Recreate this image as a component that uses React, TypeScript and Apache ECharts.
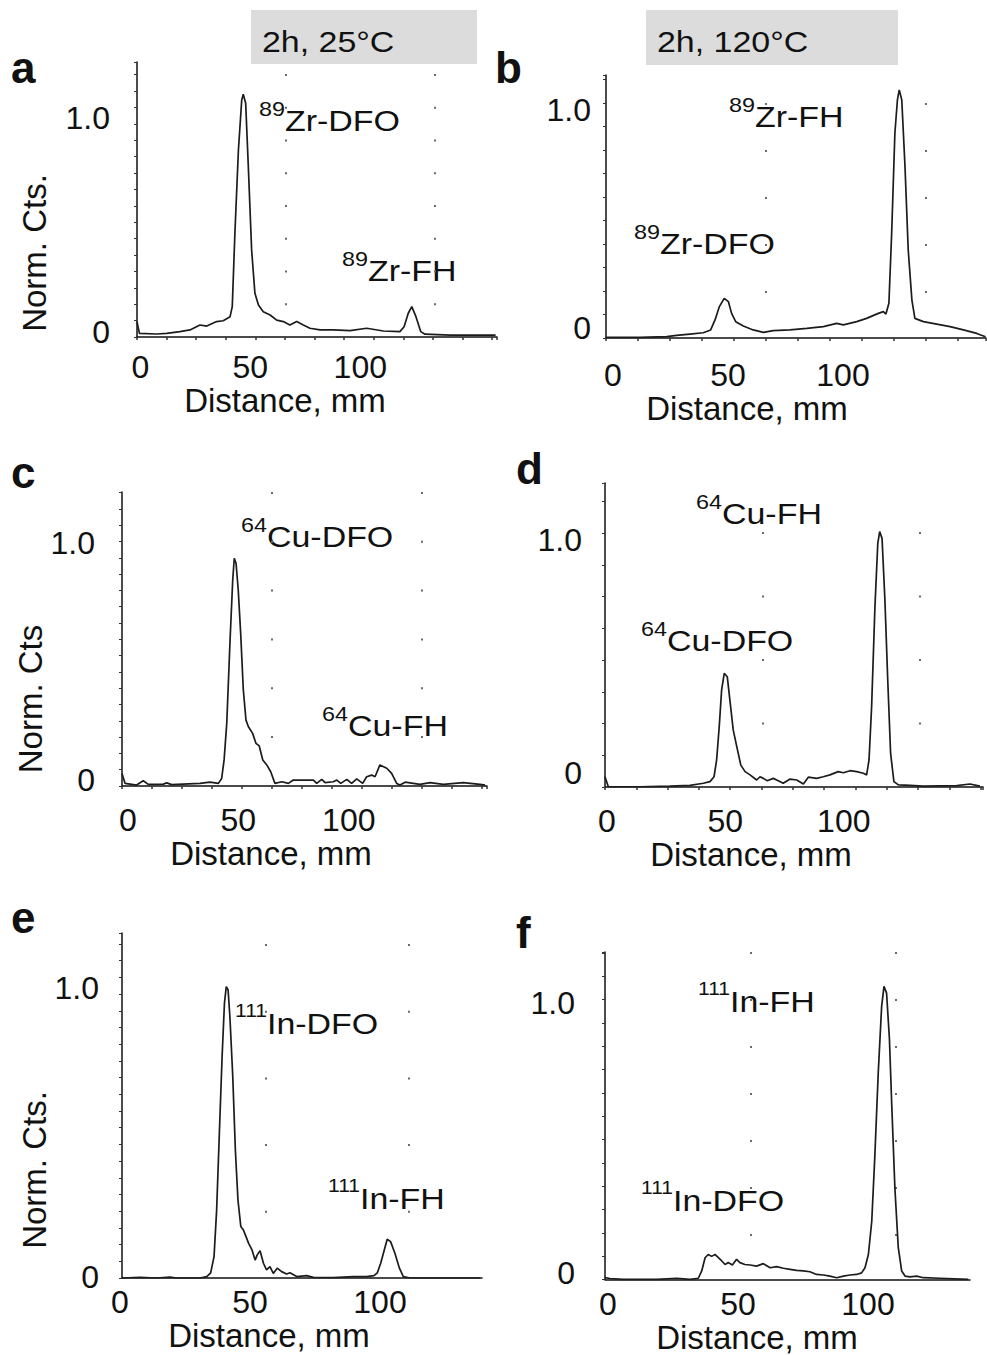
import React, { useEffect, useRef } from "react";
import * as echarts from "echarts";

const FONT = '"Liberation Sans", Arial, Helvetica, sans-serif';
const INK = "#111111";

// ---------------- data ----------------
const xTickValues = [0, 50, 100];
const yTickValues = [0, 1];
const conditionTitles = ["2h, 25°C", "2h, 120°C"];
const panelLetters = ["a", "b", "c", "d", "e", "f"];
const xAxisName = "Distance, mm";
const yAxisNames = ["Norm. Cts.", "", "Norm. Cts", "", "Norm. Cts.", ""];

// peak annotations: [isotope superscript, species]
const notesA = [["89", "Zr-DFO"], ["89", "Zr-FH"]];
const notesB = [["89", "Zr-FH"], ["89", "Zr-DFO"]];
const notesC = [["64", "Cu-DFO"], ["64", "Cu-FH"]];
const notesD = [["64", "Cu-FH"], ["64", "Cu-DFO"]];
const notesE = [["111", "In-DFO"], ["111", "In-FH"]];
const notesF = [["111", "In-FH"], ["111", "In-DFO"]];

// (a) 89Zr, 2h 25°C
const distA = [0, 1.1, 8.9, 13.5, 19.5, 24.1, 28.6, 31.7, 36.2, 39.2, 42.3, 43.3, 44.5, 46.1, 47.6, 48.3, 49.4, 50.6, 52.1, 53.6, 55.2, 57.4, 60.5, 63.5, 66.5, 69.5, 72.6, 75.6, 78.6, 83.2, 89.2, 96.8, 104.4, 112, 119.5, 121.4, 123.3, 124.9, 126.8, 129, 130.9, 142.3, 163];
const ctsA = [0.072, 0.017, 0.014, 0.017, 0.025, 0.033, 0.056, 0.051, 0.072, 0.076, 0.095, 0.142, 0.485, 0.874, 1.107, 1.134, 1.092, 0.796, 0.407, 0.204, 0.15, 0.118, 0.103, 0.079, 0.072, 0.056, 0.072, 0.056, 0.041, 0.033, 0.033, 0.03, 0.041, 0.028, 0.025, 0.048, 0.111, 0.142, 0.095, 0.025, 0.013, 0.009, 0.009];

// (b) 89Zr, 2h 120°C
const distB = [0, 14.8, 26.4, 30.7, 36.5, 42.3, 45.5, 47.4, 49.3, 51.4, 53.2, 54.6, 56.4, 59.7, 64, 68.4, 72.7, 80, 87.3, 94.5, 100.3, 103.2, 109, 113.3, 118.4, 120.6, 121.7, 123, 124.2, 125.6, 126.7, 127.5, 128.6, 130, 131.4, 133, 134.3, 138, 143.8, 149.6, 155.4, 161.2, 165];
const ctsB = [0.003, 0.003, 0.006, 0.012, 0.018, 0.024, 0.037, 0.083, 0.144, 0.182, 0.167, 0.113, 0.075, 0.055, 0.037, 0.026, 0.034, 0.037, 0.044, 0.052, 0.067, 0.06, 0.075, 0.09, 0.113, 0.121, 0.11, 0.159, 0.48, 0.939, 1.092, 1.138, 1.092, 0.786, 0.404, 0.174, 0.09, 0.075, 0.064, 0.052, 0.037, 0.021, 0.006];

// (c) 64Cu, 2h 25°C
const distC = [0, 1.4, 6.6, 9.6, 11.9, 18.7, 20.2, 22.5, 35.3, 39.8, 43.6, 45.1, 46.2, 47.4, 48.9, 50.1, 50.8, 51.6, 52.6, 53.7, 54.9, 56.1, 57.2, 59.1, 60.6, 62.1, 63.7, 65.5, 67.3, 69.2, 72.3, 75.3, 77.5, 86.6, 88.1, 90.4, 91.9, 95.6, 97.2, 99, 101.7, 103.9, 106.2, 108.9, 110.7, 113, 114.5, 116.7, 119.8, 122, 124.3, 125.8, 128.1, 134.8, 139.4, 145.4, 154.4, 162, 164.3];
const ctsC = [0.053, 0.011, 0.004, 0.022, 0.007, 0.008, 0.013, 0.006, 0.011, 0.016, 0.011, 0.032, 0.11, 0.264, 0.616, 0.869, 0.961, 0.94, 0.827, 0.644, 0.405, 0.278, 0.25, 0.222, 0.18, 0.169, 0.11, 0.089, 0.06, 0.011, 0.018, 0.011, 0.025, 0.025, 0.011, 0.028, 0.014, 0.018, 0.025, 0.011, 0.028, 0.011, 0.03, 0.011, 0.039, 0.046, 0.039, 0.089, 0.075, 0.053, 0.011, 0.004, 0.016, 0.007, 0.014, 0.007, 0.014, 0.007, 0.004];

// (d) 64Cu, 2h 120°C
const distD = [0, 1.4, 14.8, 27.4, 35.9, 41.5, 44.3, 46, 47.1, 48.2, 49.2, 50.3, 51.6, 52.7, 54.1, 55.6, 57.3, 59.1, 61.2, 64, 65.4, 66.8, 68.5, 71, 73.1, 75.2, 78.1, 80.9, 83.7, 85.8, 89.3, 92.1, 94.9, 98.4, 100.6, 103.4, 106.2, 109, 110.4, 111.4, 112.5, 113.9, 115.1, 115.9, 116.9, 118.1, 119.3, 120.5, 121.9, 123.8, 128.7, 134.3, 148.4, 154, 158.2];
const ctsD = [0.044, 0.001, 0.001, 0.004, 0.007, 0.016, 0.023, 0.044, 0.116, 0.259, 0.416, 0.488, 0.473, 0.373, 0.245, 0.173, 0.094, 0.066, 0.052, 0.03, 0.044, 0.037, 0.027, 0.037, 0.027, 0.016, 0.034, 0.03, 0.013, 0.042, 0.037, 0.044, 0.052, 0.066, 0.061, 0.07, 0.066, 0.059, 0.052, 0.116, 0.345, 0.774, 1.046, 1.096, 1.067, 0.803, 0.459, 0.145, 0.023, 0.009, 0.007, 0.004, 0.006, 0.013, 0.004];

// (e) 111In, 2h 25°C
const distE = [0, 6.9, 13.3, 18.5, 21, 30, 32.6, 34.1, 35.4, 36.4, 37.4, 38.5, 39.4, 40.1, 40.8, 41.5, 42.6, 43.6, 44.6, 45.7, 46.7, 47.7, 48.7, 50, 51.2, 52, 53.1, 54.4, 55.6, 56.9, 58.2, 59.7, 61.4, 63.3, 64.6, 67.2, 71, 73.6, 81.3, 89, 94.1, 96.9, 98.2, 99.5, 100.8, 102, 103.3, 105, 106.7, 108.2, 110.8, 119.7, 137.7];
const ctsE = [0, 0.002, 0, 0.003, 0, 0, 0.005, 0.018, 0.074, 0.235, 0.489, 0.766, 0.95, 1.008, 0.997, 0.904, 0.697, 0.443, 0.27, 0.178, 0.166, 0.143, 0.12, 0.097, 0.062, 0.08, 0.094, 0.051, 0.028, 0.039, 0.016, 0.034, 0.022, 0.014, 0.018, 0.005, 0.008, 0.002, 0.001, 0.005, 0.005, 0.008, 0.018, 0.051, 0.094, 0.134, 0.126, 0.085, 0.034, 0.005, 0, 0, 0];

// (f) 111In, 2h 120°C
const distF = [0, 1.9, 7, 19.9, 27.6, 32.7, 35.9, 37.2, 38.5, 39.7, 41, 42.3, 43.6, 44.9, 46.2, 47.4, 49, 50.6, 51.9, 53.8, 55.8, 58.3, 60.9, 63.5, 66, 68.6, 71.2, 73.7, 76.3, 78.8, 81.4, 84, 86.5, 89.1, 91.7, 94.2, 96.8, 98.7, 100, 101.3, 102.6, 103.8, 105.1, 106.4, 107.3, 108.3, 109.4, 110.3, 111.5, 112.8, 114.1, 115.4, 117.3, 119.9, 122.4, 128.8, 139.7];
const ctsF = [0.007, 0.004, 0.001, 0.001, 0.005, 0.001, 0.005, 0.032, 0.081, 0.093, 0.086, 0.093, 0.081, 0.069, 0.056, 0.063, 0.054, 0.075, 0.063, 0.056, 0.054, 0.05, 0.059, 0.044, 0.048, 0.042, 0.038, 0.034, 0.032, 0.029, 0.019, 0.017, 0.013, 0.007, 0.013, 0.017, 0.019, 0.025, 0.044, 0.093, 0.216, 0.461, 0.767, 1.012, 1.086, 1.061, 0.89, 0.644, 0.338, 0.118, 0.032, 0.013, 0.01, 0.013, 0.007, 0.005, 0.001];

// ---------------- layout (positions / styles only) ----------------
type Layout = {
  left: number; top: number; width: number; height: number;
  sx: number; sy: number; // px per mm, px per unit
  xTickPx: number; yTickPx: number;
  xLabelMargin: number; xLabelShift: number;
  yLabelMargin: number; yLabelShift: number;
  xNameGap: number; xNameShift: number;
  yNameGap: number; yNameShift: number;
  colPx: number; rowTop: number; rowStep: number;
  letter: [number, number];
  notePos: [number, number][];
};

const layouts: Layout[] = [
  { left: 137, top: 62, width: 360, height: 275, sx: 2.2, sy: 214, xTickPx: 29.6, yTickPx: 16.4,
    xLabelMargin: 14, xLabelShift: 3.3, yLabelMargin: 27, yLabelShift: 5, xNameGap: 43.5, xNameShift: 32,
    yNameGap: 86.5, yNameShift: 53.5, colPx: 149, rowTop: 75, rowStep: 32.75,
    letter: [11, 67], notePos: [[259, 121], [342, 271]] },
  { left: 606, top: 75, width: 380, height: 263, sx: 2.3, sy: 218, xTickPx: 32, yTickPx: 23.5,
    xLabelMargin: 21, xLabelShift: 7, yLabelMargin: 15, yLabelShift: 10, xNameGap: 42.5, xNameShift: 49,
    yNameGap: 0, yNameShift: 0, colPx: 160, rowTop: 104, rowStep: 47,
    letter: [495, 67], notePos: [[729, 117], [634, 244]] },
  { left: 122, top: 492, width: 365, height: 294, sx: 2.21, sy: 237, xTickPx: 30, yTickPx: 16.3,
    xLabelMargin: 18, xLabelShift: 5.8, yLabelMargin: 27, yLabelShift: 6, xNameGap: 49, xNameShift: 33.5,
    yNameGap: 70.5, yNameShift: 60, colPx: 150, rowTop: 493, rowStep: 48.8,
    letter: [11, 472], notePos: [[241, 537], [322, 726]] },
  { left: 605, top: 483, width: 378, height: 304, sx: 2.37, sy: 233, xTickPx: 31.3, yTickPx: 31.75,
    xLabelMargin: 18, xLabelShift: 1.8, yLabelMargin: 23, yLabelShift: 14, xNameGap: 48.5, xNameShift: 43,
    yNameGap: 0, yNameShift: 0, colPx: 157.5, rowTop: 533, rowStep: 63.5,
    letter: [516, 468], notePos: [[696, 514], [641, 641]] },
  { left: 122, top: 933, width: 360, height: 345, sx: 2.6, sy: 289, xTickPx: 0, yTickPx: 16.7,
    xLabelMargin: 8, xLabelShift: -2, yLabelMargin: 23, yLabelShift: 1, xNameGap: 39.5, xNameShift: 33,
    yNameGap: 71, yNameShift: 64.5, colPx: 143.5, rowTop: 945, rowStep: 66.7,
    letter: [11, 917], notePos: [[235, 1024], [328, 1199]] },
  { left: 605, top: 952, width: 365, height: 330, sx: 2.6, sy: 272, xTickPx: 0, yTickPx: 23.5,
    xLabelMargin: 8.5, xLabelShift: 3, yLabelMargin: 30, yLabelShift: 7, xNameGap: 38.5, xNameShift: 30.5,
    yNameGap: 0, yNameShift: 0, colPx: 145.5, rowTop: 953, rowStep: 47,
    letter: [516, 932], notePos: [[698, 1002], [641, 1201]] },
];

const dists = [distA, distB, distC, distD, distE, distF];
const counts = [ctsA, ctsB, ctsC, ctsD, ctsE, ctsF];
const notes = [notesA, notesB, notesC, notesD, notesE, notesF];

const titleBoxes = [
  { x: 251, y: 10, w: 226, h: 54, tx: 262, ty: 42 },
  { x: 646, y: 10, w: 252, h: 55, tx: 657, ty: 42 },
];

const TEXT_SCALE_X = 1.17;

function buildOption() {
  const grid: any[] = [];
  const xAxis: any[] = [];
  const yAxis: any[] = [];
  const series: any[] = [];
  const graphic: any[] = [];

  layouts.forEach((p, i) => {
    const xMax = p.width / p.sx;
    const yMax = p.height / p.sy;
    const gMain = grid.length;
    grid.push({ left: p.left, top: p.top, width: p.width, height: p.height });
    const gDots = grid.length;
    const dotsTop = p.rowTop - 1;
    grid.push({
      left: p.left,
      top: dotsTop,
      width: p.width,
      height: p.top + p.height - dotsTop - p.rowStep / 2,
    });

    const xPad = p.xLabelShift >= 0 ? [0, 0, 0, 2 * p.xLabelShift] : [0, -2 * p.xLabelShift, 0, 0];
    const xMain = xAxis.length;
    xAxis.push({
      type: "value",
      gridIndex: gMain,
      min: 0,
      max: xMax,
      interval: p.xTickPx > 0 ? p.xTickPx / p.sx : undefined,
      name: xAxisName,
      nameLocation: "middle",
      nameGap: p.xNameGap,
      nameTextStyle: { fontSize: 33, fontFamily: FONT, color: INK, padding: [0, 2 * p.xNameShift, 0, 0] },
      axisLine: { show: true, onZero: false, lineStyle: { color: INK, width: 1.5 } },
      axisTick: { show: p.xTickPx > 0, length: 3, lineStyle: { color: "#333", width: 1.5 } },
      axisLabel: {
        customValues: xTickValues,
        fontSize: 32,
        fontFamily: FONT,
        color: INK,
        margin: p.xLabelMargin,
        padding: xPad,
        formatter: (v: number) => String(v),
      },
      splitLine: { show: false },
    });
    const yMain = yAxis.length;
    yAxis.push({
      type: "value",
      gridIndex: gMain,
      min: 0,
      max: yMax,
      interval: p.yTickPx / p.sy,
      name: yAxisNames[i] || undefined,
      nameLocation: "middle",
      nameGap: p.yNameGap,
      nameTextStyle: { fontSize: 33, fontFamily: FONT, color: INK, padding: [0, 2 * p.yNameShift, 0, 0] },
      axisLine: { show: true, lineStyle: { color: INK, width: 1.5 } },
      axisTick: { show: true, length: 3, lineStyle: { color: "#333", width: 1 } },
      axisLabel: {
        customValues: yTickValues,
        fontSize: 32,
        fontFamily: FONT,
        color: INK,
        margin: p.yLabelMargin,
        formatter: (v: number) => `{v|${v === 0 ? "0" : v.toFixed(1)}}`,
        rich: {
          v: {
            fontSize: 32,
            fontFamily: FONT,
            color: INK,
            padding: [0, 0, 2 * p.yLabelShift, 0],
          },
        },
      },
      splitLine: { show: false },
    });

    // faint dotted grid columns
    xAxis.push({
      type: "value",
      gridIndex: gDots,
      min: 0,
      max: xMax,
      interval: p.colPx / p.sx,
      axisLine: { show: false },
      axisTick: { show: false },
      axisLabel: { show: false },
      splitLine: {
        show: true,
        showMinLine: false,
        showMaxLine: false,
        lineStyle: { color: "#6a6a6a", width: 2, type: [2, p.rowStep - 2] },
      },
    });
    yAxis.push({ type: "value", gridIndex: gDots, min: 0, max: 1, show: false });

    series.push({
      type: "line",
      xAxisIndex: xMain,
      yAxisIndex: yMain,
      data: dists[i].map((d, k) => [d, counts[i][k]]),
      symbol: "none",
      showSymbol: false,
      silent: true,
      lineStyle: { color: "#1c1c1c", width: 1.7 },
      z: 3,
    });

    // panel letter
    graphic.push({
      type: "text",
      x: p.letter[0],
      y: p.letter[1],
      style: {
        text: panelLetters[i],
        fontSize: 44,
        fontWeight: "bold",
        fontFamily: FONT,
        fill: INK,
        textAlign: "left",
        textVerticalAlign: "middle",
      },
    });

    // peak annotations
    notes[i].forEach((n, k) => {
      const long = n[0].length > 2;
      graphic.push({
        type: "text",
        x: p.notePos[k][0],
        y: p.notePos[k][1],
        scaleX: TEXT_SCALE_X,
        style: {
          text: `{s|${n[0]}}{m|${n[1]}}`,
          rich: {
            s: { fontSize: long ? 18 : 20, lineHeight: 20, verticalAlign: "top", fontFamily: FONT, fill: INK },
            m: { fontSize: 29, lineHeight: 44, fontFamily: FONT, fill: INK },
          },
          fill: INK,
          textAlign: "left",
          textVerticalAlign: "middle",
        },
      });
    });
  });

  titleBoxes.forEach((b, i) => {
    graphic.push({
      type: "rect",
      shape: { x: b.x, y: b.y, width: b.w, height: b.h },
      style: { fill: "#dcdcdc" },
    });
    graphic.push({
      type: "text",
      x: b.tx,
      y: b.ty,
      scaleX: TEXT_SCALE_X,
      style: {
        text: conditionTitles[i],
        fontSize: 29,
        fontFamily: FONT,
        fill: INK,
        textAlign: "left",
        textVerticalAlign: "middle",
      },
    });
  });

  return {
    animation: false,
    backgroundColor: "#ffffff",
    grid,
    xAxis,
    yAxis,
    series,
    graphic,
  };
}

export default function App() {
  const ref = useRef<HTMLDivElement>(null);
  useEffect(() => {
    if (!ref.current) return;
    const chart = echarts.init(ref.current, undefined, { renderer: "svg" });
    chart.setOption(buildOption() as any);
    return () => {
      chart.dispose();
    };
  }, []);
  return (
    <div
      ref={ref}
      style={{ position: "absolute", left: 0, top: 0, width: 987, height: 1355, background: "#ffffff" }}
    />
  );
}
